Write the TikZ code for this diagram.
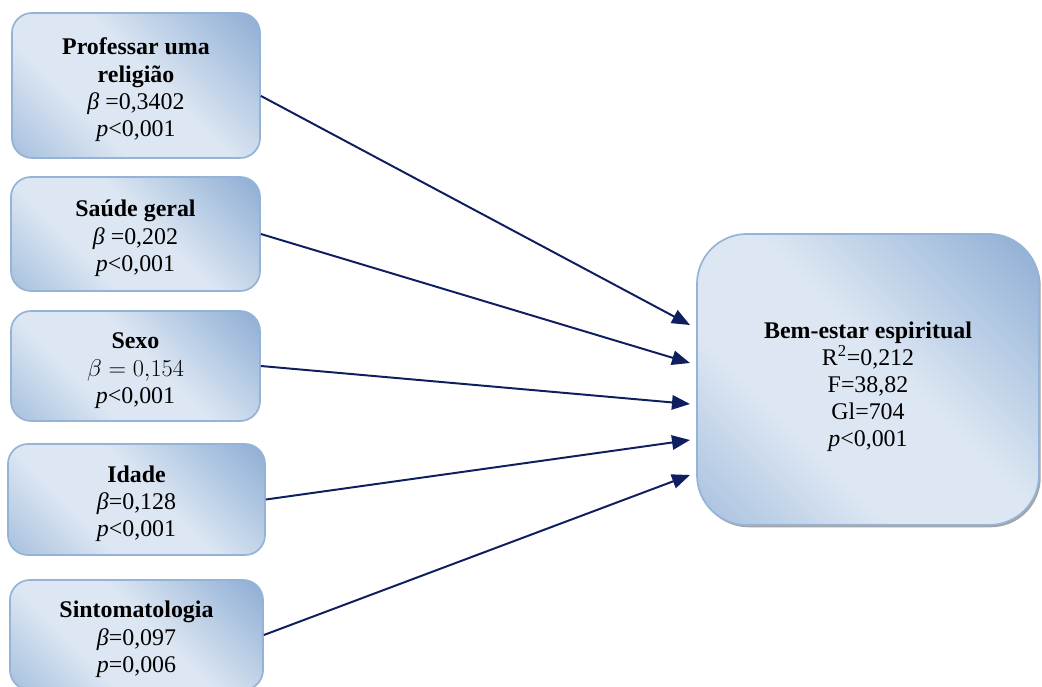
\documentclass[tikz,border=0pt]{standalone}
\usepackage{fontspec}
\setmainfont{Liberation Serif}
\usetikzlibrary{arrows.meta,shadows}

\definecolor{boxlight}{RGB}{221,231,243}
\definecolor{boxdark}{RGB}{149,179,215}
\definecolor{boxline}{RGB}{149,179,215}
\definecolor{setacor}{RGB}{14,30,94}
\colorlet{boxmid}{boxdark!75!boxlight}
\pgfdeclarehorizontalshading{caixa}{100bp}{color(0bp)=(boxmid); color(15bp)=(boxmid);
  color(36bp)=(boxlight); color(54bp)=(boxlight); color(82bp)=(boxdark); color(100bp)=(boxdark)}
\newcommand{\topo}[1]{\rule{0pt}{#1}}

\begin{document}
\begin{tikzpicture}[x=0.025cm, y=-0.025cm,
    var/.style={draw=boxline, line width=1.2pt, rounded corners=0.5cm,
      shading=caixa, shading angle=45, align=center,
      font=\fontsize{17}{19.3}\selectfont, inner sep=0pt},
    dep/.style={var, rounded corners=1.25cm,
      drop shadow={shadow xshift=1.2pt, shadow yshift=-1.6pt, fill=black!45, opacity=0.8}},
    seta/.style={-{Triangle[length=0.45cm, width=0.36cm]}, setacor, line width=1.4pt}]
  \useasboundingbox (0,0) rectangle (1042,686);

  % Variaveis preditoras (caixas da esquerda)
  \node[var, minimum width=6.2cm, minimum height=3.625cm] (rel) at (136,85.5)
    {\topo{18pt}\textbf{Professar uma}\\\textbf{religião}\\\textit{β} =0,3402\\\textit{p}<0,001};
  \node[var, minimum width=6.225cm, minimum height=2.85cm] (saude) at (135.5,234)
    {\topo{18pt}\textbf{Saúde geral}\\\textit{β} =0,202\\\textit{p}<0,001};
  \node[var, minimum width=6.225cm, minimum height=2.75cm] (sexo) at (135.5,366)
    {\topo{18pt}\textbf{Sexo}\\$\beta = 0{,}154$\\\textit{p}<0,001};
  \node[var, minimum width=6.425cm, minimum height=2.775cm] (idade) at (136.5,499.5)
    {\topo{18pt}\textbf{Idade}\\\textit{β}=0,128\\\textit{p}<0,001};
  \node[var, minimum width=6.325cm, minimum height=2.75cm] (sint) at (136.5,635)
    {\topo{18pt}\textbf{Sintomatologia}\\\textit{β}=0,097\\\textit{p}=0,006};

  % Variavel dependente
  \node[dep, minimum width=8.55cm, minimum height=7.275cm] (bem) at (868,379.5)
    {\topo{22pt}\textbf{Bem-estar espiritual}\\R\textsuperscript{2}=0,212\\F=38,82\\Gl=704\\\textit{p}<0,001};

  % Pontas das setas junto a caixa
  \foreach \c/\y in {e1/325, e2/363, e3/404, e4/440, e5/475} {
    \coordinate (\c) at (690,\y);
  }

  \draw[seta] ([yshift=-0.26cm]rel.east) -- (e1);
  \foreach \n/\c in {saude/e2, sexo/e3, idade/e4, sint/e5} {
    \draw[seta] (\n.east) -- (\c);
  }
\end{tikzpicture}
\end{document}
